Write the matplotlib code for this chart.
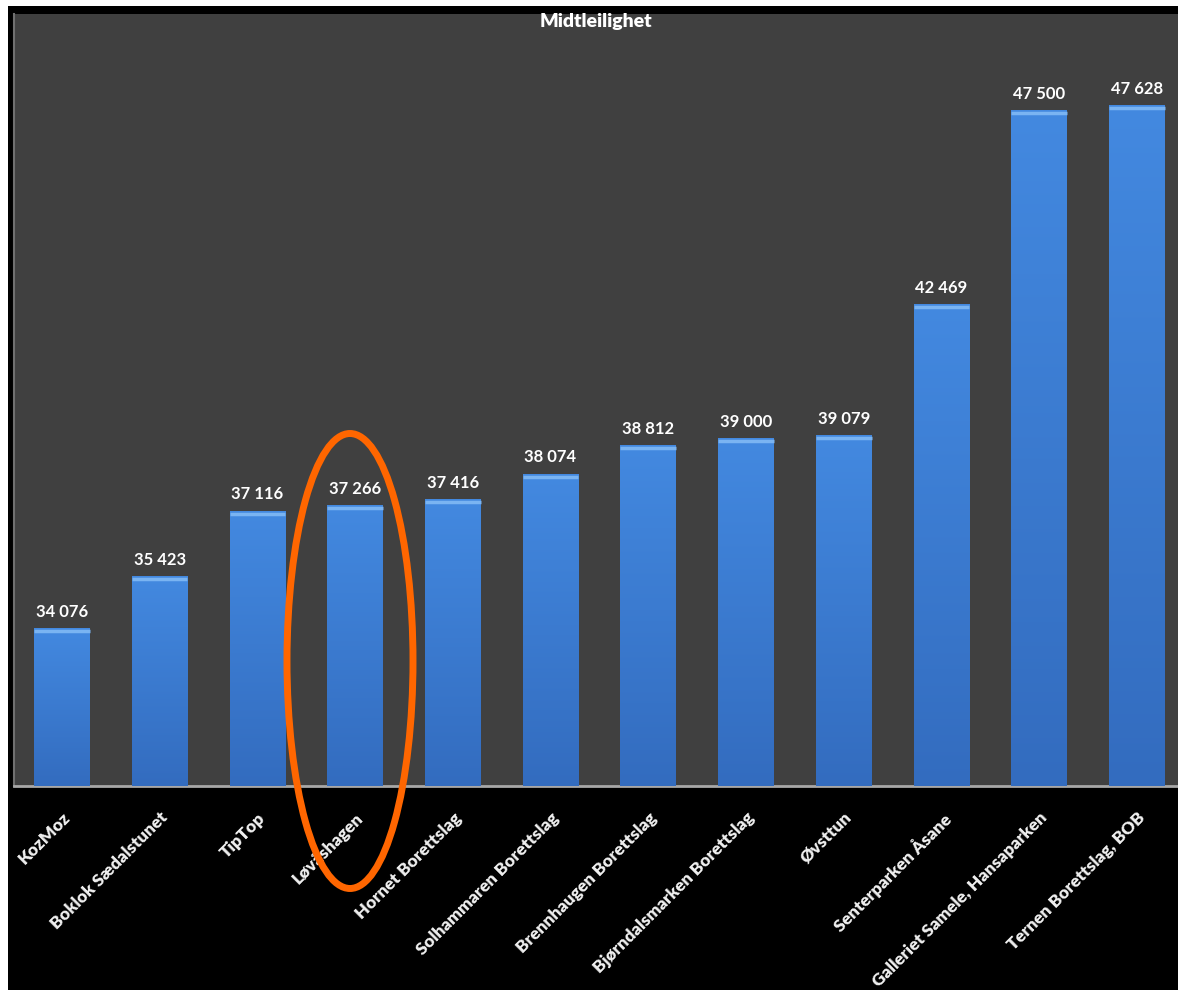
import numpy as np
import matplotlib
matplotlib.use("Agg")
from matplotlib import pyplot as plt
from matplotlib.patches import Ellipse, Rectangle
from matplotlib.colors import LinearSegmentedColormap

# data
names = ["KozMoz", "Boklok Sædalstunet", "TipTop", "Løvåshagen", "Hornet Borettslag",
         "Solhammaren Borettslag", "Brennhaugen Borettslag", "Bjørndalsmarken Borettslag",
         "Øvsttun", "Senterparken Åsane", "Galleriet Samele, Hansaparken", "Ternen Borettslag, BOB"]
values = [34076, 35423, 37116, 37266, 37416, 38074, 38812, 39000, 39079, 42469, 47500, 47628]
title = "Midtleilighet"

plt.rcParams["font.family"] = ["Lato", "DejaVu Sans"]


def fmt(v):
    return f"{v:,}".replace(",", " ")


def main():
    W, H = 1178, 999
    fig = plt.figure(figsize=(W / 100, H / 100), dpi=100, facecolor="white")

    # black frame behind everything
    fig.patches.append(Rectangle((8 / W, 9 / H), 1 - 8 / W, 1 - 15 / H,
                                 transform=fig.transFigure, facecolor="black",
                                 edgecolor="none", zorder=-5))

    ax = fig.add_axes([14 / W, 1 - 786 / H, 1 - 14 / W, (786 - 14) / H])
    ax.set_facecolor("#404040")
    ax.set_xlim(-0.49, 11.42)
    ax.set_ylim(30000, 50000)
    ymin = ax.get_ylim()[0]

    x = np.arange(len(values))
    bars = ax.bar(x, values, width=0.57, color="#3b7ad0", zorder=2)

    # vertical gradient inside each bar
    cmap = LinearSegmentedColormap.from_list("bar", ["#336cbf", "#4389e0"])
    grad = np.linspace(0, 1, 256).reshape(-1, 1)
    for b in bars:
        x0, w, top = b.get_x(), b.get_width(), b.get_y() + b.get_height()
        im = ax.imshow(grad, cmap=cmap, aspect="auto", origin="lower",
                       extent=(x0, x0 + w, ymin, top), zorder=3)
        im.set_clip_path(b)
        im.set_clip_box(ax.bbox)
        ax.plot([x0, x0 + w], [top - 60, top - 60], color="#7ab4f2",
                lw=2.5, zorder=4, solid_capstyle="butt")
        ax.text(x0 + w / 2, top + 230, fmt(int(top)), ha="center", va="bottom",
                color="white", fontsize=12, fontweight="bold", zorder=5)

    ax.set_yticks([])
    ax.set_xticks(x)
    ax.set_xticklabels(names, rotation=45, ha="right", rotation_mode="anchor",
                       color="#f0f0f0", fontsize=12.5, fontweight="heavy")
    ax.tick_params(axis="x", length=0, pad=17)
    for s in ["top", "right"]:
        ax.spines[s].set_visible(False)
    ax.spines["bottom"].set_color("#a8a8a8")
    ax.spines["bottom"].set_linewidth(2)
    ax.spines["left"].set_color("#707070")
    ax.spines["left"].set_linewidth(1.5)

    fig.text(596 / W, 1 - 21 / H, title, ha="center", va="center", color="white",
             fontsize=14, fontweight="heavy")

    # orange ring around Løvåshagen
    fig.patches.append(Ellipse((350 / W, 1 - 661 / H), 126 / W, 455 / H,
                               transform=fig.transFigure, fill=False,
                               edgecolor="#ff6600", lw=5, zorder=10))

    fig.savefig("out.png", dpi=100, facecolor=fig.get_facecolor())


if __name__ == "__main__":
    main()
